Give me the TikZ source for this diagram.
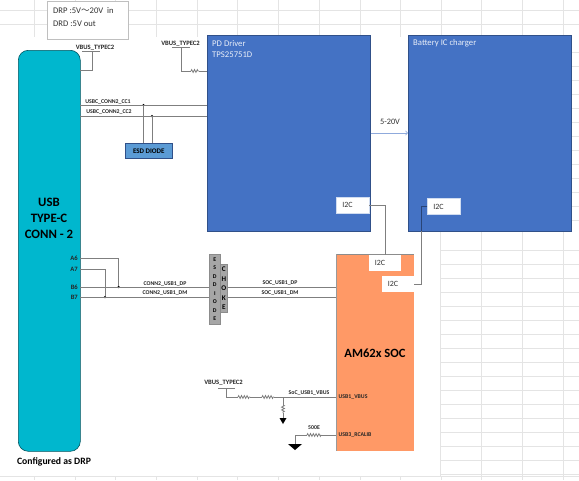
\documentclass[tikz,border=0pt]{standalone}
\usepackage{fontspec}
\setmainfont{Carlito}
\newfontfamily\cjk{Noto Sans CJK SC}
\definecolor{boxblue}{HTML}{4472C4}
\definecolor{boxteal}{HTML}{00B7CE}
\definecolor{boxorange}{HTML}{FF9966}
\definecolor{esdblue}{HTML}{5B9BD5}
\definecolor{gridgray}{HTML}{E4E4E4}
\definecolor{wiregray}{HTML}{7F7F7F}
\definecolor{linkblue}{HTML}{8FAADC}
\usetikzlibrary{positioning,calc,arrows,decorations.pathmorphing}
\tikzset{
    block/.style={draw=boxblue!70!black,fill=boxblue,line width=0.6pt,inner sep=0pt,anchor=north west},
    blocktext/.style={text=white!88!boxblue,font=\fontsize{8.7}{10}\selectfont,anchor=west,inner sep=0pt},
    i2cbox/.style={fill=white,text=black!80,font=\fontsize{8}{9}\selectfont,inner sep=0pt,minimum width=32.5pt,minimum height=16pt,text width=20.5pt},
    wire/.style={draw=wiregray,line width=0.8pt},
    res/.style={wire,decorate,decoration={zigzag,amplitude=1.4pt,segment length=2.8pt}},
    netlabel/.style={font=\bfseries\fontsize{5.8}{6}\selectfont,inner sep=0pt,text=black!85},
    vbuslabel/.style={font=\bfseries\fontsize{6.6}{7}\selectfont,inner sep=0pt,text=black!85},
    pinlabel/.style={font=\bfseries\fontsize{6.6}{7}\selectfont,inner sep=0pt,anchor=east,text=black!85},
    junction/.style={circle,fill=black,inner sep=0pt,minimum size=2.5pt},
    gnd/.style={fill=black,draw=none},
    gridline/.style={draw=gridgray,line width=0.8pt},
    notetext/.style={anchor=west,inner sep=0pt,text=black!80,font=\fontsize{8.6}{9}\selectfont}
}
\begin{document}
\begin{tikzpicture}[x=1pt,y=-1pt]
    \useasboundingbox (0,0) rectangle (579,480);
    % Sheet grid
    \foreach \x in {34,75,115,156,197,237,278,319,360,400.7,441,481.7,522.3,563.3} {
        \draw[gridline] (\x,0) -- (\x,37);
        \draw[gridline] (\x,476.7) -- (\x,480);
    }
    \foreach \y in {10,24} {
        \draw[gridline] (0,\y) -- (579,\y);
    }
    \draw[gridline] (0,476.7) -- (579,476.7);
    \foreach \x in {440.7,481.7,522.3,563.3} {
        \draw[gridline] (\x,231) -- (\x,476.7);
    }
    \foreach \i in {0,...,16} {
        \draw[gridline] (440.7,250.7+14*\i) -- (579,250.7+14*\i);
    }
    \foreach \i in {0,...,12} {
        \draw[gridline] (571,52+14*\i) -- (579,52+14*\i);
    }

    % Note
    \node[draw=black!25,fill=white,line width=0.6pt,minimum width=81pt,minimum height=38pt,inner sep=0pt,anchor=north west] (note) at (47,1) {};
    \node[notetext] (notea) at (53,10.5) {DRP :5V{\cjk ～}20V\ \ in};
    \node[notetext] (noteb) at (53,23.5) {DRD :5V out};

    % Connector
    \node[draw=black!55!boxteal,fill=boxteal,rounded corners=10pt,line width=0.6pt,minimum width=62pt,minimum height=401pt,inner sep=0pt,anchor=north west] (conn) at (18,50) {};
    \node[font=\bfseries\fontsize{12.8}{16}\selectfont,align=center,inner sep=0pt] (connlabel) at (49,218) {USB\\TYPE-C\\CONN - 2};
    \node[font=\bfseries\fontsize{9.7}{11}\selectfont,inner sep=0pt] (drplabel) at (54,462) {Configured as DRP};

    % Main blocks
    \node[block,minimum width=163pt,minimum height=196pt] (pd) at (207,35) {};
    \node[block,minimum width=163pt,minimum height=196pt] (charger) at (408,35) {};
    \node[blocktext] (pdname) at (212,43.5) {PD Driver};
    \node[blocktext] (pdpart) at (212,54.5) {TPS25751D};
    \node[blocktext] (chargername) at (413,43.5) {Battery IC charger};
    \node[draw=none,fill=boxorange,minimum width=78pt,minimum height=197pt,inner sep=0pt,anchor=north west] (soc) at (336,254) {};
    \draw[black!45,line width=0.5pt] (soc.north west) -- (soc.north east);
    \draw[black!40,line width=0.5pt] (soc.north west) -- (soc.south west);
    \node[font=\bfseries\fontsize{12.6}{13}\selectfont,inner sep=0pt] (socname) at (375,353) {AM62x SOC};

    % I2C boxes
    \node[i2cbox,draw=white!75!boxblue,line width=0.5pt] (pdi2c) at (352.5,205) {I2C};
    \node[i2cbox,draw=white!75!boxblue,line width=0.5pt] (chargeri2c) at (443.5,206.5) {I2C};
    \node[i2cbox] (soci2ca) at (385,263) {I2C};
    \node[i2cbox] (soci2cb) at (398,284) {I2C};
    \draw[wire] (pdi2c.east) -| (soci2ca.north);
    \draw[wire] (chargeri2c.west) -- ++(-6,0) |- (soci2cb.east);
    \draw[boxblue!60!black,line width=0.8pt] (chargeri2c.west) -- ++(-6,0) -- ++(0,24.5);

    % 5-20V link
    \draw[->,>=to,draw=linkblue,line width=0.8pt] (pd.east |- 0,133) -- (charger.west |- 0,133);
    \node[font=\fontsize{8.3}{9}\selectfont,inner sep=0pt,text=black!80] (vlabel) at (390,122) {5-20V};

    % VBUS at connector and PD
    \node[vbuslabel] (vbusa) at (95,48) {VBUS\_TYPEC2};
    \node[vbuslabel] (vbusb) at (180.5,44) {VBUS\_TYPEC2};
    \draw[wire] (82,51) -- (100,51);
    \draw[wire] (172,47) -- (190,47);
    \coordinate (vbusapin) at (80,70);
    \coordinate (vbusbres) at (191,71);
    \coordinate (vbusbend) at (199,71);
    \draw[wire] (vbusapin) -| (92,51);
    \draw[wire] (181,47) |- (vbusbres);
    \draw[res] (vbusbres) -- (vbusbend);
    \draw[wire] (vbusbend) -- (vbusbend -| pd.west);

    % CC lines
    \coordinate (cca) at (80,105);
    \coordinate (ccb) at (80,116);
    \node[draw=boxblue!70!black,fill=esdblue,line width=0.6pt,minimum width=47pt,minimum height=15pt,inner sep=0pt,font=\bfseries\fontsize{7}{8}\selectfont,anchor=north west] (esd) at (125,143) {ESD DIODE};
    \node[junction] (ccadot) at (143.5,105) {};
    \node[junction] (ccbdot) at (152,116) {};
    \draw[wire] (cca) -- (cca -| pd.west);
    \draw[wire] (ccb) -- (ccb -| pd.west);
    \draw[wire] (ccadot) -- (ccadot |- esd.north);
    \draw[wire] (ccbdot) -- (ccbdot |- esd.north);
    \node[netlabel] (cclabela) at (108,101.5) {USBC\_CONN2\_CC1};
    \node[netlabel] (cclabelb) at (109,112) {USBC\_CONN2\_CC2};

    % USB data lines
    \foreach \name/\y in {A6/258.7,A7/269,B6/287,B7/297} {
        \node[pinlabel] (pin\name) at (78,\y) {\name};
        \coordinate (end\name) at (80,\y);
    }
    \node[junction] (dpdot) at (118.7,287) {};
    \node[junction] (dmdot) at (105,297) {};
    \draw[wire] (endB6) -- (endB6 -| soc.west);
    \draw[wire] (endB7) -- (endB7 -| soc.west);
    \draw[wire] (endA6) -| (dpdot);
    \draw[wire] (endA7) -| (dmdot);
    \node[draw=black!45,fill=black!35,line width=0.6pt,minimum width=11pt,minimum height=70pt,inner sep=0pt,font=\bfseries\fontsize{5.8}{8.5}\selectfont,align=center,anchor=north west] (esdstack) at (209,254) {E\\S\\D\\D\\I\\O\\D\\E};
    \node[draw=black!45,fill=black!35,line width=0.6pt,minimum width=7pt,minimum height=48pt,inner sep=0pt,font=\bfseries\fontsize{7.2}{9.4}\selectfont,align=center,anchor=north west] (choke) at (220,264) {C\\H\\O\\K\\E};
    \node[netlabel] (dplabela) at (165,284) {CONN2\_USB1\_DP};
    \node[netlabel] (dmlabela) at (165,293) {CONN2\_USB1\_DM};
    \node[netlabel] (dplabelb) at (280,283) {SOC\_USB1\_DP};
    \node[netlabel] (dmlabelb) at (280,293) {SOC\_USB1\_DM};

    % SoC VBUS
    \node[vbuslabel] (vbusc) at (223.5,383) {VBUS\_TYPEC2};
    \draw[wire] (218,388) -- (235,388);
    \coordinate (vbuscres) at (238,397);
    \coordinate (vbuscresend) at (250,397);
    \coordinate (vbusdres) at (262,397);
    \coordinate (vbusdresend) at (274,397);
    \coordinate (vbustap) at (283,397);
    \draw[wire] (226,388) |- (vbuscres);
    \draw[res] (vbuscres) -- (vbuscresend);
    \draw[wire] (vbuscresend) -- (vbusdres);
    \draw[res] (vbusdres) -- (vbusdresend);
    \draw[wire] (vbusdresend) -- (vbusdresend -| soc.west);
    \coordinate (vbustapres) at (283,405);
    \coordinate (vbustapend) at (283,413);
    \draw[wire] (vbustap) -- (vbustapres);
    \draw[res] (vbustapres) -- (vbustapend);
    \draw[wire] (vbustapend) -- (283,418);
    \fill[gnd] (279.5,418) -- (286.5,418) -- (283,424) -- cycle;
    \node[netlabel] (soclabel) at (309,393) {SoC\_USB1\_VBUS};
    \node[netlabel,anchor=west] (socpina) at (338.5,396.5) {USB1\_VBUS};

    % RCALIB
    \coordinate (calibres) at (307,435);
    \coordinate (calibresend) at (321,435);
    \draw[wire] (calibresend) -- (calibresend -| soc.west);
    \draw[res] (calibres) -- (calibresend);
    \draw[wire] (calibres) -| (295,444);
    \fill[gnd] (288,444) -- (302,444) -- (295,450) -- cycle;
    \node[netlabel] (caliblabel) at (314,427.5) {500E};
    \node[netlabel,anchor=west] (socpinb) at (338.5,435) {USB3\_RCALIB};
\end{tikzpicture}
\end{document}
